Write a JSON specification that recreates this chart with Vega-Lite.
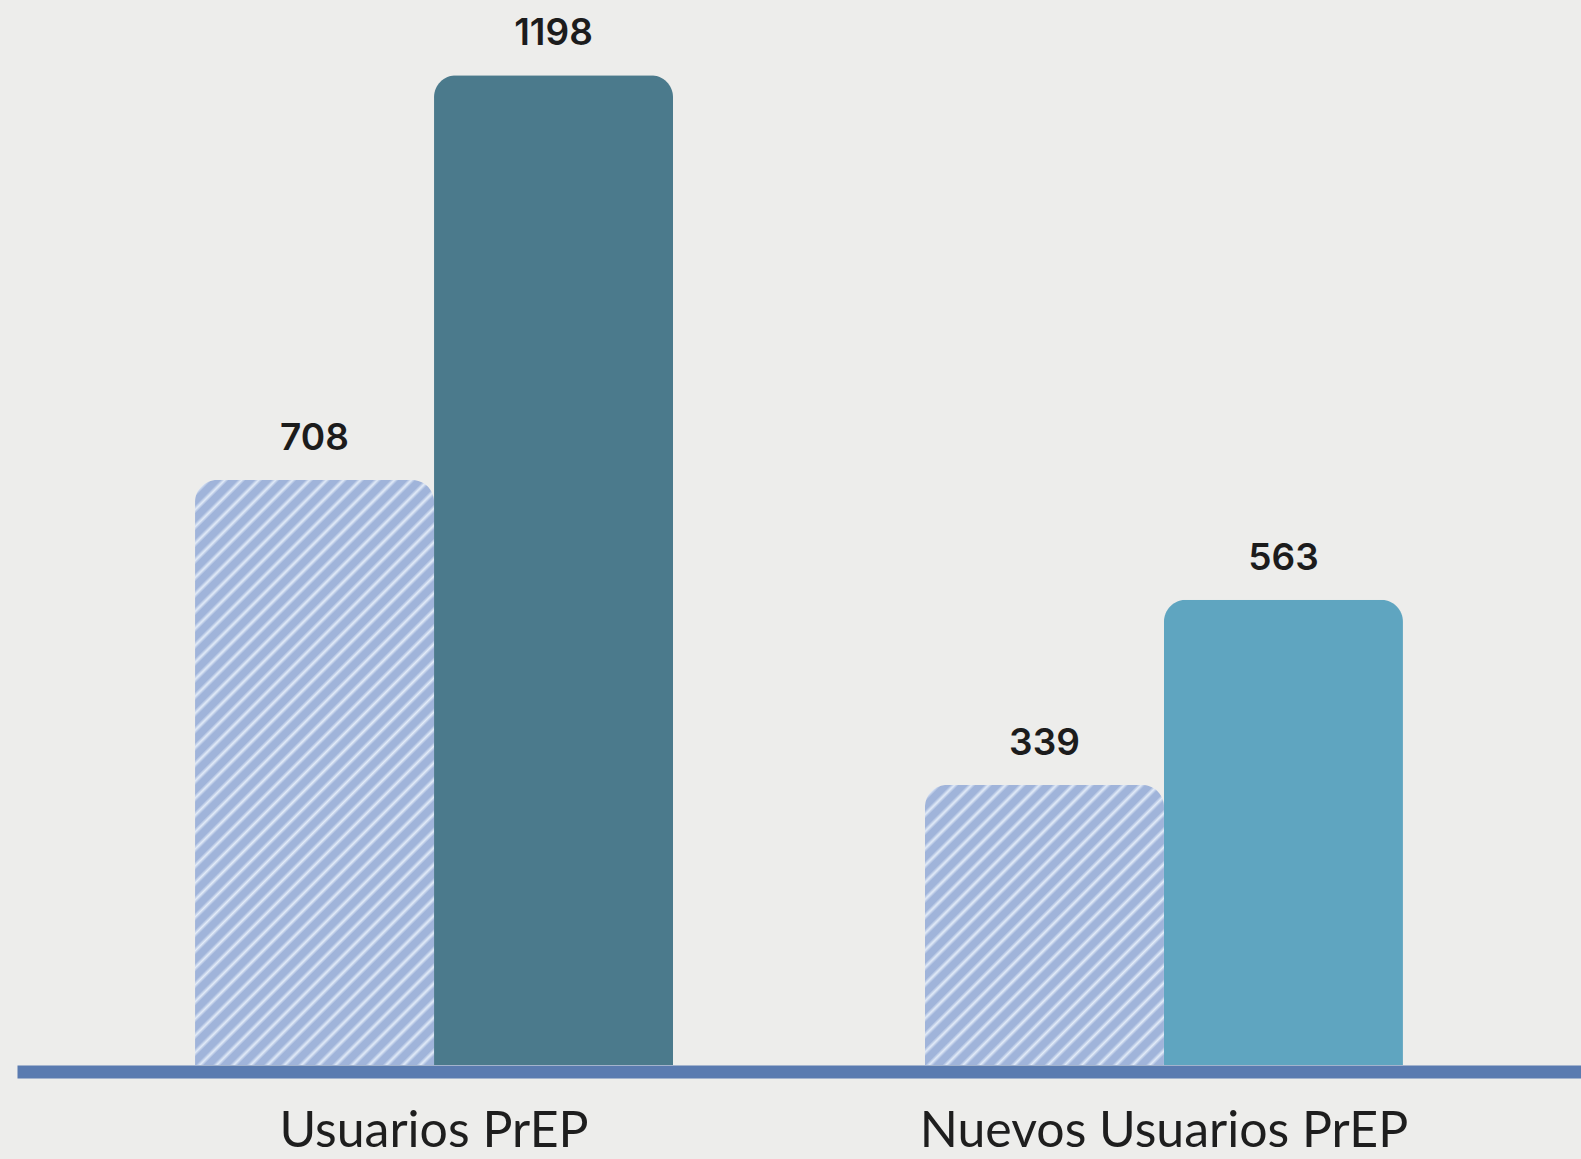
{
  "$schema": "https://vega.github.io/schema/vega-lite/v6.json",
  "width": 1564,
  "height": 1065,
  "autosize": {"type": "none"},
  "padding": {"left": 17, "top": 0, "right": 0, "bottom": 94},
  "background": "#ededeb",
  "config": {"view": {"stroke": null}},
  "data": {
    "values": [
      {"grupo": "Usuarios PrEP", "serie": "Anterior", "valor": 708},
      {"grupo": "Usuarios PrEP", "serie": "Actual", "valor": 1198},
      {"grupo": "Nuevos Usuarios PrEP", "serie": "Anterior", "valor": 339},
      {"grupo": "Nuevos Usuarios PrEP", "serie": "Actual", "valor": 563}
    ]
  },
  "encoding": {
    "x": {
      "field": "grupo",
      "type": "nominal",
      "sort": ["Usuarios PrEP", "Nuevos Usuarios PrEP"],
      "scale": {"paddingInner": 0.3452, "paddingOuter": 0.2439},
      "axis": {
        "title": null,
        "labelAngle": 0,
        "labelLimit": 0,
        "ticks": false,
        "tickSize": 0,
        "domainColor": "#5a7bb0",
        "domainWidth": 13,
        "offset": 6.5,
        "labelPadding": 35,
        "labelFont": "Lato",
        "labelFontSize": 50,
        "labelColor": "#1e1e1e",
        "labelBaseline": "top"
      }
    },
    "xOffset": {
      "field": "serie",
      "type": "nominal",
      "sort": ["Anterior", "Actual"],
      "scale": {"paddingInner": 0, "paddingOuter": 0}
    },
    "y": {
      "field": "valor",
      "type": "quantitative",
      "scale": {"domain": [0, 1289], "nice": false, "zero": true},
      "axis": null
    }
  },
  "layer": [
    {
      "transform": [{"filter": "datum.serie === 'Actual'"}],
      "mark": {"type": "bar", "cornerRadiusTopLeft": 22, "cornerRadiusTopRight": 22},
      "encoding": {
        "color": {
          "field": "grupo",
          "type": "nominal",
          "scale": {"domain": ["Usuarios PrEP", "Nuevos Usuarios PrEP"], "range": ["#4b7a8c", "#5fa5c0"]},
          "legend": null
        }
      }
    },
    {
      "transform": [{"filter": "datum.serie === 'Anterior' && datum.grupo === 'Usuarios PrEP'"}],
      "mark": {
        "type": "bar",
        "cornerRadiusTopLeft": 22,
        "cornerRadiusTopRight": 22,
        "fill": {
          "gradient": "linear",
          "x1": 0, "y1": 0, "x2": 0.5078, "y2": 1.243,
          "stops": [
            {"offset": 0, "color": "#a0b4da"}, {"offset": 0.01, "color": "#a0b4da"}, {"offset": 0.015, "color": "#e2ebf8"},
            {"offset": 0.02, "color": "#a0b4da"}, {"offset": 0.03, "color": "#a0b4da"}, {"offset": 0.035, "color": "#e2ebf8"},
            {"offset": 0.04, "color": "#a0b4da"}, {"offset": 0.05, "color": "#a0b4da"}, {"offset": 0.055, "color": "#e2ebf8"},
            {"offset": 0.06, "color": "#a0b4da"}, {"offset": 0.07, "color": "#a0b4da"}, {"offset": 0.075, "color": "#e2ebf8"},
            {"offset": 0.08, "color": "#a0b4da"}, {"offset": 0.09, "color": "#a0b4da"}, {"offset": 0.095, "color": "#e2ebf8"},
            {"offset": 0.1, "color": "#a0b4da"}, {"offset": 0.11, "color": "#a0b4da"}, {"offset": 0.115, "color": "#e2ebf8"},
            {"offset": 0.12, "color": "#a0b4da"}, {"offset": 0.13, "color": "#a0b4da"}, {"offset": 0.135, "color": "#e2ebf8"},
            {"offset": 0.14, "color": "#a0b4da"}, {"offset": 0.15, "color": "#a0b4da"}, {"offset": 0.155, "color": "#e2ebf8"},
            {"offset": 0.16, "color": "#a0b4da"}, {"offset": 0.17, "color": "#a0b4da"}, {"offset": 0.175, "color": "#e2ebf8"},
            {"offset": 0.18, "color": "#a0b4da"}, {"offset": 0.19, "color": "#a0b4da"}, {"offset": 0.195, "color": "#e2ebf8"},
            {"offset": 0.2, "color": "#a0b4da"}, {"offset": 0.21, "color": "#a0b4da"}, {"offset": 0.215, "color": "#e2ebf8"},
            {"offset": 0.22, "color": "#a0b4da"}, {"offset": 0.23, "color": "#a0b4da"}, {"offset": 0.235, "color": "#e2ebf8"},
            {"offset": 0.24, "color": "#a0b4da"}, {"offset": 0.25, "color": "#a0b4da"}, {"offset": 0.255, "color": "#e2ebf8"},
            {"offset": 0.26, "color": "#a0b4da"}, {"offset": 0.27, "color": "#a0b4da"}, {"offset": 0.275, "color": "#e2ebf8"},
            {"offset": 0.28, "color": "#a0b4da"}, {"offset": 0.29, "color": "#a0b4da"}, {"offset": 0.295, "color": "#e2ebf8"},
            {"offset": 0.3, "color": "#a0b4da"}, {"offset": 0.31, "color": "#a0b4da"}, {"offset": 0.315, "color": "#e2ebf8"},
            {"offset": 0.32, "color": "#a0b4da"}, {"offset": 0.33, "color": "#a0b4da"}, {"offset": 0.335, "color": "#e2ebf8"},
            {"offset": 0.34, "color": "#a0b4da"}, {"offset": 0.35, "color": "#a0b4da"}, {"offset": 0.355, "color": "#e2ebf8"},
            {"offset": 0.36, "color": "#a0b4da"}, {"offset": 0.37, "color": "#a0b4da"}, {"offset": 0.375, "color": "#e2ebf8"},
            {"offset": 0.38, "color": "#a0b4da"}, {"offset": 0.39, "color": "#a0b4da"}, {"offset": 0.395, "color": "#e2ebf8"},
            {"offset": 0.4, "color": "#a0b4da"}, {"offset": 0.41, "color": "#a0b4da"}, {"offset": 0.415, "color": "#e2ebf8"},
            {"offset": 0.42, "color": "#a0b4da"}, {"offset": 0.43, "color": "#a0b4da"}, {"offset": 0.435, "color": "#e2ebf8"},
            {"offset": 0.44, "color": "#a0b4da"}, {"offset": 0.45, "color": "#a0b4da"}, {"offset": 0.455, "color": "#e2ebf8"},
            {"offset": 0.46, "color": "#a0b4da"}, {"offset": 0.47, "color": "#a0b4da"}, {"offset": 0.475, "color": "#e2ebf8"},
            {"offset": 0.48, "color": "#a0b4da"}, {"offset": 0.49, "color": "#a0b4da"}, {"offset": 0.495, "color": "#e2ebf8"},
            {"offset": 0.5, "color": "#a0b4da"}, {"offset": 0.51, "color": "#a0b4da"}, {"offset": 0.515, "color": "#e2ebf8"},
            {"offset": 0.52, "color": "#a0b4da"}, {"offset": 0.53, "color": "#a0b4da"}, {"offset": 0.535, "color": "#e2ebf8"},
            {"offset": 0.54, "color": "#a0b4da"}, {"offset": 0.55, "color": "#a0b4da"}, {"offset": 0.555, "color": "#e2ebf8"},
            {"offset": 0.56, "color": "#a0b4da"}, {"offset": 0.57, "color": "#a0b4da"}, {"offset": 0.575, "color": "#e2ebf8"},
            {"offset": 0.58, "color": "#a0b4da"}, {"offset": 0.59, "color": "#a0b4da"}, {"offset": 0.595, "color": "#e2ebf8"},
            {"offset": 0.6, "color": "#a0b4da"}, {"offset": 0.61, "color": "#a0b4da"}, {"offset": 0.615, "color": "#e2ebf8"},
            {"offset": 0.62, "color": "#a0b4da"}, {"offset": 0.63, "color": "#a0b4da"}, {"offset": 0.635, "color": "#e2ebf8"},
            {"offset": 0.64, "color": "#a0b4da"}, {"offset": 0.65, "color": "#a0b4da"}, {"offset": 0.655, "color": "#e2ebf8"},
            {"offset": 0.66, "color": "#a0b4da"}, {"offset": 0.67, "color": "#a0b4da"}, {"offset": 0.675, "color": "#e2ebf8"},
            {"offset": 0.68, "color": "#a0b4da"}, {"offset": 0.69, "color": "#a0b4da"}, {"offset": 0.695, "color": "#e2ebf8"},
            {"offset": 0.7, "color": "#a0b4da"}, {"offset": 0.71, "color": "#a0b4da"}, {"offset": 0.715, "color": "#e2ebf8"},
            {"offset": 0.72, "color": "#a0b4da"}, {"offset": 0.73, "color": "#a0b4da"}, {"offset": 0.735, "color": "#e2ebf8"},
            {"offset": 0.74, "color": "#a0b4da"}, {"offset": 0.75, "color": "#a0b4da"}, {"offset": 0.755, "color": "#e2ebf8"},
            {"offset": 0.76, "color": "#a0b4da"}, {"offset": 0.77, "color": "#a0b4da"}, {"offset": 0.775, "color": "#e2ebf8"},
            {"offset": 0.78, "color": "#a0b4da"}, {"offset": 0.79, "color": "#a0b4da"}, {"offset": 0.795, "color": "#e2ebf8"},
            {"offset": 0.8, "color": "#a0b4da"}, {"offset": 0.81, "color": "#a0b4da"}, {"offset": 0.815, "color": "#e2ebf8"},
            {"offset": 0.82, "color": "#a0b4da"}, {"offset": 0.83, "color": "#a0b4da"}, {"offset": 0.835, "color": "#e2ebf8"},
            {"offset": 0.84, "color": "#a0b4da"}, {"offset": 0.85, "color": "#a0b4da"}, {"offset": 0.855, "color": "#e2ebf8"},
            {"offset": 0.86, "color": "#a0b4da"}, {"offset": 0.87, "color": "#a0b4da"}, {"offset": 0.875, "color": "#e2ebf8"},
            {"offset": 0.88, "color": "#a0b4da"}, {"offset": 0.89, "color": "#a0b4da"}, {"offset": 0.895, "color": "#e2ebf8"},
            {"offset": 0.9, "color": "#a0b4da"}, {"offset": 0.91, "color": "#a0b4da"}, {"offset": 0.915, "color": "#e2ebf8"},
            {"offset": 0.92, "color": "#a0b4da"}, {"offset": 0.93, "color": "#a0b4da"}, {"offset": 0.935, "color": "#e2ebf8"},
            {"offset": 0.94, "color": "#a0b4da"}, {"offset": 0.95, "color": "#a0b4da"}, {"offset": 0.955, "color": "#e2ebf8"},
            {"offset": 0.96, "color": "#a0b4da"}, {"offset": 0.97, "color": "#a0b4da"}, {"offset": 0.975, "color": "#e2ebf8"},
            {"offset": 0.98, "color": "#a0b4da"}, {"offset": 1, "color": "#a0b4da"}
          ]
        }
      }
    },
    {
      "transform": [{"filter": "datum.serie === 'Anterior' && datum.grupo === 'Nuevos Usuarios PrEP'"}],
      "mark": {
        "type": "bar",
        "cornerRadiusTopLeft": 22,
        "cornerRadiusTopRight": 22,
        "fill": {
          "gradient": "linear",
          "x1": 0, "y1": 0, "x2": 1.4964, "y2": 1.7531,
          "stops": [
            {"offset": 0, "color": "#a0b4da"}, {"offset": 0.01, "color": "#a0b4da"}, {"offset": 0.015, "color": "#e2ebf8"},
            {"offset": 0.02, "color": "#a0b4da"}, {"offset": 0.03, "color": "#a0b4da"}, {"offset": 0.035, "color": "#e2ebf8"},
            {"offset": 0.04, "color": "#a0b4da"}, {"offset": 0.05, "color": "#a0b4da"}, {"offset": 0.055, "color": "#e2ebf8"},
            {"offset": 0.06, "color": "#a0b4da"}, {"offset": 0.07, "color": "#a0b4da"}, {"offset": 0.075, "color": "#e2ebf8"},
            {"offset": 0.08, "color": "#a0b4da"}, {"offset": 0.09, "color": "#a0b4da"}, {"offset": 0.095, "color": "#e2ebf8"},
            {"offset": 0.1, "color": "#a0b4da"}, {"offset": 0.11, "color": "#a0b4da"}, {"offset": 0.115, "color": "#e2ebf8"},
            {"offset": 0.12, "color": "#a0b4da"}, {"offset": 0.13, "color": "#a0b4da"}, {"offset": 0.135, "color": "#e2ebf8"},
            {"offset": 0.14, "color": "#a0b4da"}, {"offset": 0.15, "color": "#a0b4da"}, {"offset": 0.155, "color": "#e2ebf8"},
            {"offset": 0.16, "color": "#a0b4da"}, {"offset": 0.17, "color": "#a0b4da"}, {"offset": 0.175, "color": "#e2ebf8"},
            {"offset": 0.18, "color": "#a0b4da"}, {"offset": 0.19, "color": "#a0b4da"}, {"offset": 0.195, "color": "#e2ebf8"},
            {"offset": 0.2, "color": "#a0b4da"}, {"offset": 0.21, "color": "#a0b4da"}, {"offset": 0.215, "color": "#e2ebf8"},
            {"offset": 0.22, "color": "#a0b4da"}, {"offset": 0.23, "color": "#a0b4da"}, {"offset": 0.235, "color": "#e2ebf8"},
            {"offset": 0.24, "color": "#a0b4da"}, {"offset": 0.25, "color": "#a0b4da"}, {"offset": 0.255, "color": "#e2ebf8"},
            {"offset": 0.26, "color": "#a0b4da"}, {"offset": 0.27, "color": "#a0b4da"}, {"offset": 0.275, "color": "#e2ebf8"},
            {"offset": 0.28, "color": "#a0b4da"}, {"offset": 0.29, "color": "#a0b4da"}, {"offset": 0.295, "color": "#e2ebf8"},
            {"offset": 0.3, "color": "#a0b4da"}, {"offset": 0.31, "color": "#a0b4da"}, {"offset": 0.315, "color": "#e2ebf8"},
            {"offset": 0.32, "color": "#a0b4da"}, {"offset": 0.33, "color": "#a0b4da"}, {"offset": 0.335, "color": "#e2ebf8"},
            {"offset": 0.34, "color": "#a0b4da"}, {"offset": 0.35, "color": "#a0b4da"}, {"offset": 0.355, "color": "#e2ebf8"},
            {"offset": 0.36, "color": "#a0b4da"}, {"offset": 0.37, "color": "#a0b4da"}, {"offset": 0.375, "color": "#e2ebf8"},
            {"offset": 0.38, "color": "#a0b4da"}, {"offset": 0.39, "color": "#a0b4da"}, {"offset": 0.395, "color": "#e2ebf8"},
            {"offset": 0.4, "color": "#a0b4da"}, {"offset": 0.41, "color": "#a0b4da"}, {"offset": 0.415, "color": "#e2ebf8"},
            {"offset": 0.42, "color": "#a0b4da"}, {"offset": 0.43, "color": "#a0b4da"}, {"offset": 0.435, "color": "#e2ebf8"},
            {"offset": 0.44, "color": "#a0b4da"}, {"offset": 0.45, "color": "#a0b4da"}, {"offset": 0.455, "color": "#e2ebf8"},
            {"offset": 0.46, "color": "#a0b4da"}, {"offset": 0.47, "color": "#a0b4da"}, {"offset": 0.475, "color": "#e2ebf8"},
            {"offset": 0.48, "color": "#a0b4da"}, {"offset": 0.49, "color": "#a0b4da"}, {"offset": 0.495, "color": "#e2ebf8"},
            {"offset": 0.5, "color": "#a0b4da"}, {"offset": 0.51, "color": "#a0b4da"}, {"offset": 0.515, "color": "#e2ebf8"},
            {"offset": 0.52, "color": "#a0b4da"}, {"offset": 0.53, "color": "#a0b4da"}, {"offset": 0.535, "color": "#e2ebf8"},
            {"offset": 0.54, "color": "#a0b4da"}, {"offset": 0.55, "color": "#a0b4da"}, {"offset": 0.555, "color": "#e2ebf8"},
            {"offset": 0.56, "color": "#a0b4da"}, {"offset": 0.57, "color": "#a0b4da"}, {"offset": 0.575, "color": "#e2ebf8"},
            {"offset": 0.58, "color": "#a0b4da"}, {"offset": 0.59, "color": "#a0b4da"}, {"offset": 0.595, "color": "#e2ebf8"},
            {"offset": 0.6, "color": "#a0b4da"}, {"offset": 0.61, "color": "#a0b4da"}, {"offset": 0.615, "color": "#e2ebf8"},
            {"offset": 0.62, "color": "#a0b4da"}, {"offset": 0.63, "color": "#a0b4da"}, {"offset": 0.635, "color": "#e2ebf8"},
            {"offset": 0.64, "color": "#a0b4da"}, {"offset": 1, "color": "#a0b4da"}
          ]
        }
      }
    },
    {
      "mark": {
        "type": "text",
        "baseline": "alphabetic",
        "dy": -30,
        "font": "Inter",
        "fontWeight": 600,
        "fontSize": 37,
        "color": "#1c1c1c"
      },
      "encoding": {
        "text": {"field": "valor", "type": "quantitative", "format": "d"}
      }
    }
  ]
}
